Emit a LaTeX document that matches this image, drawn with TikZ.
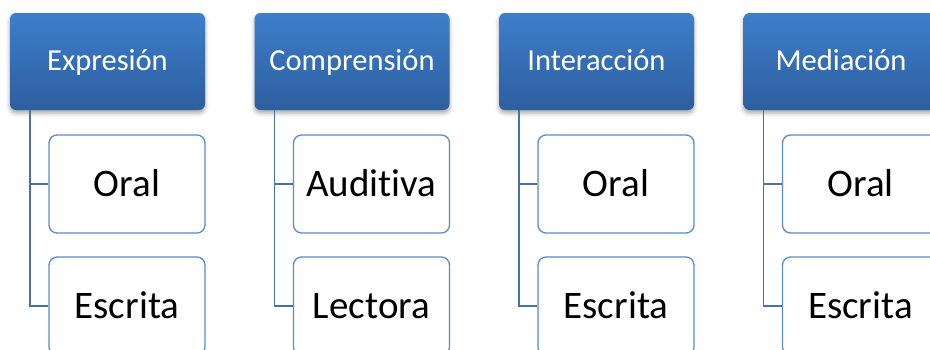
\documentclass[tikz,border=0pt]{standalone}
\usepackage{fontspec}
\setmainfont{Carlito}[Ligatures={NoCommon}]
\usetikzlibrary{shadows.blur}
\definecolor{hdtop}{HTML}{3D7ECB}
\definecolor{hdbot}{HTML}{2D5E9E}
\definecolor{chborder}{HTML}{5B8BC8}
\definecolor{conn}{HTML}{4A70A8}
\tikzset{
  header/.style={rectangle, rounded corners=6pt, minimum width=195pt, minimum height=97pt,
    top color=hdtop, bottom color=hdbot, draw=none, text=white,
    font=\fontsize{30.5}{36}\selectfont, inner sep=0pt, text height=18.4pt, text depth=0pt,
    blur shadow={shadow xshift=0pt, shadow yshift=-3pt, shadow blur radius=4pt, shadow opacity=35}},
  child/.style={rectangle, rounded corners=8pt, minimum width=156pt, minimum height=98pt,
    draw=chborder, line width=1.3pt, fill=white, text=black,
    font=\fontsize{39}{44}\selectfont, inner sep=0pt, text height=24.5pt, text depth=0pt},
  conline/.style={draw=conn, line width=1.3pt}
}
\begin{document}
\begin{tikzpicture}[x=1pt,y=-1pt]
\useasboundingbox (0,0) rectangle (930,349);
\foreach \i/\h/\a/\b in {0/Expresión/Oral/Escrita,1/Comprensión/Auditiva/Lectora,2/Interacción/Oral/Escrita,3/Mediación/Oral/Escrita}{
  \pgfmathsetmacro{\L}{10+244.5*\i}
  \node[header] (h\i) at (\L+97.5,61.5) {\h};
  \node[child] (c\i a) at (\L+117,184) {\a};
  \node[child] (c\i b) at (\L+117,306) {\b};
  \coordinate (v\i) at (\L+20,110);
  \draw[conline] (v\i) |- (c\i a.west);
  \draw[conline] (v\i) |- (c\i b.west);
}
\end{tikzpicture}
\end{document}
